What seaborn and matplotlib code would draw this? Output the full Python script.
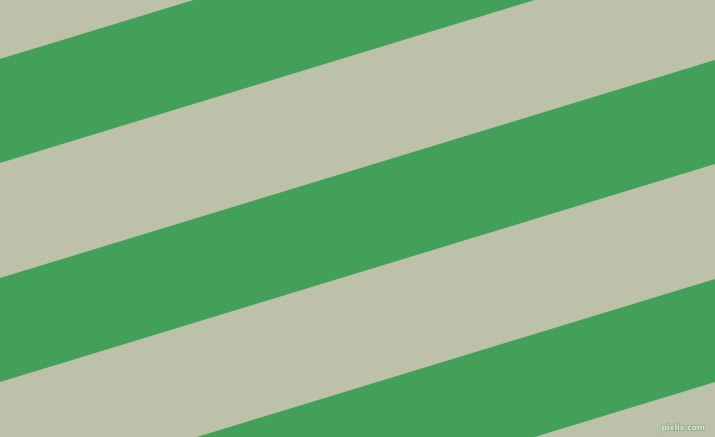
import matplotlib
matplotlib.use("Agg")
import matplotlib.pyplot as plt
import matplotlib.patheffects as pe
import seaborn as sns
import numpy as np

# stripe edges, y (pixels from top) at the left and right borders
edge_x = [0, 715]
green_top = [[59, -159], [278, 60], [497, 279]]
green_bottom = [[163, -55], [382, 164], [600, 382]]

green = "#42a059"
beige = "#bdc1aa"

sns.set_style("white")

fig = plt.figure(figsize=(7.15, 4.37), dpi=100)
ax = fig.add_axes([0, 0, 1, 1])
ax.set_facecolor(beige)

# green stripes
for top, bottom in zip(green_top, green_bottom):
    ax.fill_between(edge_x, top, bottom, color=green, linewidth=0)

ax.set_xlim(0, 715)
ax.set_ylim(437, 0)
ax.axis("off")
fig.patch.set_facecolor(beige)

# small watermark, bottom right
ax.text(705, 432, "pixlis.com", fontsize=5.5, color="#dfe6d2",
        ha="right", va="bottom", fontweight="bold",
        path_effects=[pe.withStroke(linewidth=1.2, foreground="#8fae88")])

fig.savefig("out.png", dpi=100, facecolor=beige)
